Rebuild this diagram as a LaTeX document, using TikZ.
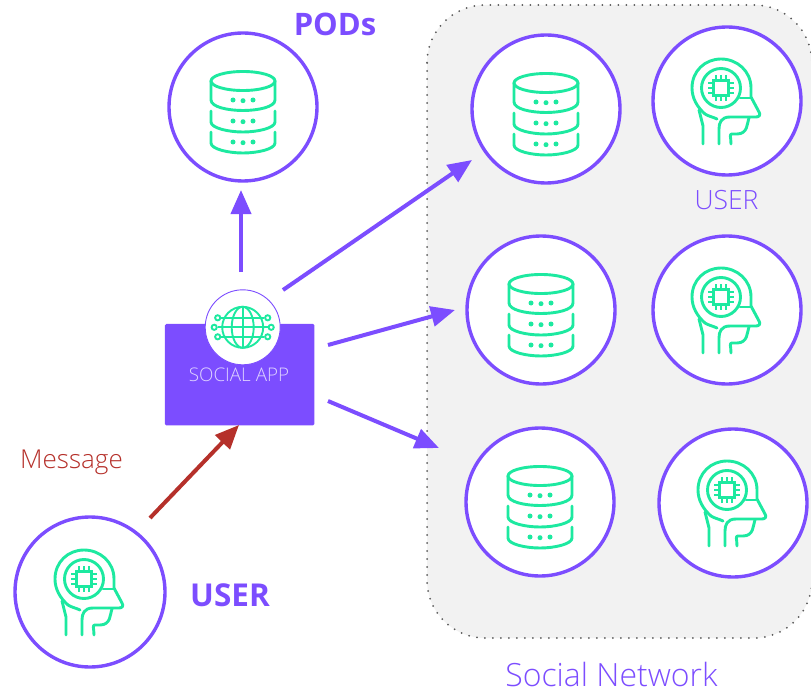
\documentclass[tikz,border=0pt]{standalone}
\usepackage{fontspec}
\setmainfont{Open Sans}
\newfontfamily\lightfont{Open Sans Light}
\usetikzlibrary{
  arrows.meta,
}
\definecolor{appviolet}{HTML}{7C4DFF}
\definecolor{icongreen}{HTML}{1DE9A0}
\definecolor{msgred}{HTML}{B5302A}
\definecolor{panelgray}{HTML}{F2F2F2}
\tikzset{
  ring/.style={circle, draw=appviolet, line width=3.4pt, fill=white, minimum size=148pt, inner sep=0pt},
  flow/.style={draw=appviolet, line width=4pt, -{Triangle[length=24pt,width=20pt]}},
  iconline/.style={draw=icongreen, line width=2.9pt, line cap=round, line join=round},
  pinline/.style={draw=icongreen, line width=1.9pt},
  globeline/.style={draw=icongreen, line width=1.9pt},
  dbicon/.pic={
    \draw[iconline] (0,-26) ellipse[x radius=32, y radius=9.5];
    \draw[iconline] (-32,-26) -- (-32,-7) .. controls (-32,0) and (-15,3.5) .. (0,3.5) .. controls (15,3.5) and (32,0) .. (32,-7) -- (32,-26);
    \draw[iconline] (-32,4) -- (-32,15) .. controls (-32,21) and (-15,25) .. (0,25) .. controls (15,25) and (32,21) .. (32,15) -- (32,4);
    \draw[iconline] (-32,25) -- (-32,36) .. controls (-32,42) and (-15,46) .. (0,46) .. controls (15,46) and (32,42) .. (32,36) -- (32,25);
    \foreach \y in {-7,14,35} {
      \fill[icongreen] (-10,\y) circle[radius=2.5];
      \fill[icongreen] (0,\y+0.7) circle[radius=2.5];
      \fill[icongreen] (10,\y) circle[radius=2.5];
    }
  },
  headicon/.pic={
    \draw[iconline] (-10,18) .. controls (-14,16) and (-18,15.5) .. (-22,13) .. controls (-30,6) and (-35,-3) .. (-35,-13) .. controls (-35,-30) and (-22,-42) .. (-6,-42) .. controls (10,-42) and (24,-30) .. (24,-13) -- (24,-4) -- (32,11) .. controls (34,14) and (32,16) .. (29,16) -- (3,16) .. controls (-6,16) and (-8,22) .. (-8,28) -- (-8,43);
    \draw[iconline] (24,-3) -- (13,-3);
    \draw[iconline] (-28,9) -- (-24,25) -- (-24,43);
    \draw[iconline] (22,17) .. controls (20,22) and (21,33) .. (10,33) -- (5,33) .. controls (2,33) and (4,36) .. (4,43);
    \draw[iconline] (-6,-13) circle[radius=19.5];
    \draw[icongreen, line width=2.5pt] (-13.5,-20.5) rectangle (1.5,-5.5);
    \foreach \k in {-5,0,5} {
      \draw[pinline] (-6+\k,-26) -- (-6+\k,-20.5);
      \draw[pinline] (-6+\k,-5.5) -- (-6+\k,0);
      \draw[pinline] (-19,-13+\k) -- (-13.5,-13+\k);
      \draw[pinline] (1.5,-13+\k) -- (7,-13+\k);
    }
  },
  globeicon/.pic={
    \draw[globeline] (0,0) circle[radius=20.5];
    \draw[globeline] (0,0) ellipse[x radius=11, y radius=20.5];
    \draw[globeline] (0,-20.5) -- (0,20.5);
    \draw[globeline] (-25,0) -- (25,0);
    \draw[globeline] (-21.5,-9.5) -- (21.5,-9.5) (-21.5,9.5) -- (21.5,9.5);
    \foreach \x/\y in {-28.5/0,-25/-9.5,-25/9.5,28.5/0,25/-9.5,25/9.5} {
      \draw[globeline, fill=white] (\x,\y) circle[radius=2.6];
    }
  },
}

\begin{document}
\begin{tikzpicture}[x=1pt, y=-1pt]
\useasboundingbox (0,0) rectangle (811,690);
% panel runs off the right edge
\begin{scope}
\clip (0,0) rectangle (811,690);
\fill[panelgray, rounded corners=58pt] (427,5) rectangle (812,638);
\draw[draw=black!65, line width=2pt, line cap=round, dash pattern=on 0pt off 8pt, rounded corners=58pt] (427,5) rectangle (812,638);
\end{scope}
\node[ring] (podMain) at (243,107) {};
\node[ring] (podA) at (546,109) {};
\node[ring] (podB) at (541,310) {};
\node[ring] (podC) at (540,502) {};
\node[ring] (userA) at (727,101) {};
\node[ring] (userB) at (727,310) {};
\node[ring] (userC) at (733,503) {};
\node[ring, minimum size=150pt] (userMain) at (90,592) {};
\foreach \k in {podMain,podA,podB,podC} {
  \pic at (\k) {dbicon};
}
\foreach \k in {userA,userB,userC,userMain} {
  \pic at (\k) {headicon};
}
\node[draw=none, fill=appviolet, rounded corners=1.5pt, minimum width=149.5pt, minimum height=101.5pt, inner sep=0pt] (app) at (239.7,374.7) {};
\node[circle, draw=appviolet, line width=0.9pt, fill=white, minimum size=75pt, inner sep=0pt] (globe) at (242.7,327.3) {};
\pic at (globe) {globeicon};
\node[text=white!75!appviolet, anchor=base, inner sep=0pt, font=\lightfont\fontsize{18.8}{18.8}\selectfont] (appLabel) at (239,381.5) {SOCIAL APP};
% arrow ends
\coordinate (tailA) at (283,290);
\coordinate (tipA) at (472,160);
\coordinate (tailB) at (328,345);
\coordinate (tipB) at (455,310);
\coordinate (tailC) at (328,401);
\coordinate (tipC) at (439,448);
\coordinate (tailMain) at (241,272);
\coordinate (tipMain) at (241,190);
\coordinate (tailMsg) at (150,518);
\coordinate (tipMsg) at (239,425);
\draw[flow] (tailMain) -- (tipMain);
\draw[flow] (tailA) -- (tipA);
\draw[flow] (tailB) -- (tipB);
\draw[flow] (tailC) -- (tipC);
\draw[flow, draw=msgred, fill=msgred] (tailMsg) -- (tipMsg);
\node[text=appviolet, anchor=base, inner sep=0pt, font=\bfseries\fontsize{31}{31}\selectfont] (podsLabel) at (335,36) {PODs};
\node[text=appviolet, anchor=base, inner sep=0pt, font=\bfseries\fontsize{31.5}{31.5}\selectfont] (userLabel) at (230,606) {USER};
\node[text=appviolet, anchor=base, inner sep=0pt, font=\lightfont\fontsize{26.5}{26.5}\selectfont] (userSmall) at (726.5,209) {USER};
\node[text=msgred, anchor=base, inner sep=0pt, font=\lightfont\fontsize{26}{26}\selectfont] (msgLabel) at (71.5,468) {Message};
\node[text=appviolet, anchor=base, inner sep=0pt, font=\lightfont\fontsize{32}{32}\selectfont] (netLabel) at (611.5,686) {Social Network};
\end{tikzpicture}
\end{document}
